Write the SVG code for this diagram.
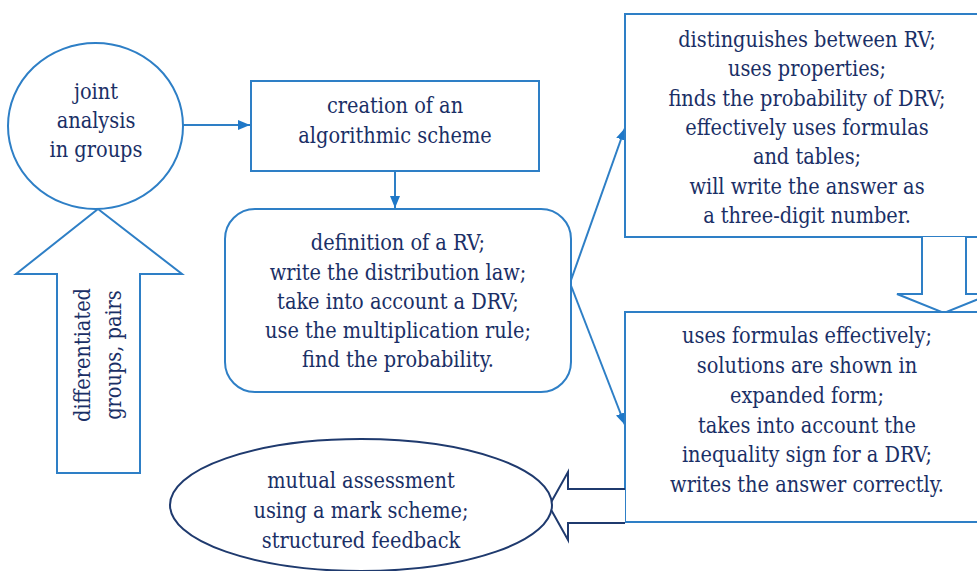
<svg xmlns="http://www.w3.org/2000/svg" width="977" height="571" viewBox="0 0 977 571">
<defs>
<marker id="ah" viewBox="0 0 12 10" refX="12" refY="5" markerWidth="12" markerHeight="10" markerUnits="userSpaceOnUse" orient="auto">
<path d="M0,0 L12,5 L0,10 z" fill="#1f78c8"/>
</marker>
</defs>
<rect width="977" height="571" fill="#fff"/>
<g id="connectors" fill="none" stroke="#2e7fc6" stroke-width="2">
<line x1="183" y1="125" x2="250" y2="125" marker-end="url(#ah)"/>
<line x1="395" y1="171" x2="395" y2="208" marker-end="url(#ah)"/>
<line x1="570" y1="283" x2="625" y2="128" marker-end="url(#ah)"/>
<line x1="570" y1="283" x2="625" y2="425" marker-end="url(#ah)"/>
</g>
<g font-family="DejaVu Serif Condensed, DejaVu Serif, serif" font-size="21.5" fill="#1a2f66" text-anchor="middle">
<g id="uparrow">
<path fill="#fff" stroke="#2e7fc6" stroke-width="2" d="M98,209 L182,274 L140,274 L140,473 L57,473 L57,274 L16,274 Z"/>
<g transform="translate(90,355) rotate(-90)">
<text x="0" y="0">differentiated</text>
<text x="0" y="31">groups, pairs</text>
</g>
</g>
<g id="joint">
<ellipse fill="#fff" stroke="#2e7fc6" stroke-width="2" cx="95.5" cy="126" rx="87.5" ry="83"/>
<text x="96" y="99">joint</text>
<text x="96" y="128">analysis</text>
<text x="96" y="157">in groups</text>
</g>
<g id="creation">
<rect fill="#fff" stroke="#2e7fc6" stroke-width="2" x="251" y="81" width="288" height="90"/>
<text x="395" y="113">creation of an</text>
<text x="395" y="143">algorithmic scheme</text>
</g>
<g id="definition">
<rect fill="#fff" stroke="#2e7fc6" stroke-width="2" x="225" y="209" width="346" height="183" rx="30"/>
<text x="398" y="250">definition of a RV;</text>
<text x="398" y="280">write the distribution law;</text>
<text x="398" y="309">take into account a DRV;</text>
<text x="398" y="338">use the multiplication rule;</text>
<text x="398" y="367">find the probability.</text>
</g>
<g id="distinguishes">
<rect fill="#fff" stroke="#2e7fc6" stroke-width="2" x="625" y="14" width="370" height="223"/>
<text x="807" y="47">distinguishes between RV;</text>
<text x="807" y="76">uses properties;</text>
<text x="807" y="106">finds the probability of DRV;</text>
<text x="807" y="135">effectively uses formulas</text>
<text x="807" y="164">and tables;</text>
<text x="807" y="194">will write the answer as</text>
<text x="807" y="223">a three-digit number.</text>
</g>
<g id="downarrow">
<path fill="#fff" stroke="#2e7fc6" stroke-width="2" d="M922,237 L922,294 L897,294 L944,313 L991,294 L966,294 L966,237"/>
</g>
<g id="uses">
<rect fill="#fff" stroke="#2e7fc6" stroke-width="2" x="625" y="312" width="370" height="210"/>
<text x="807" y="343">uses formulas effectively;</text>
<text x="807" y="373">solutions are shown in</text>
<text x="807" y="403">expanded form;</text>
<text x="807" y="433">takes into account the</text>
<text x="807" y="462">inequality sign for a DRV;</text>
<text x="807" y="492">writes the answer correctly.</text>
</g>
<g id="leftarrow">
<path fill="#fff" stroke="#1f3a6e" stroke-width="2" d="M625,489 L568,489 L568,472 L549,506 L568,540 L568,523 L625,523"/>
</g>
<g id="mutual">
<ellipse fill="#fff" stroke="#1f3a6e" stroke-width="2" cx="361" cy="505" rx="191" ry="66"/>
<text x="361" y="488">mutual assessment</text>
<text x="361" y="518">using a mark scheme;</text>
<text x="361" y="548">structured feedback</text>
</g>
</g>
</svg>
